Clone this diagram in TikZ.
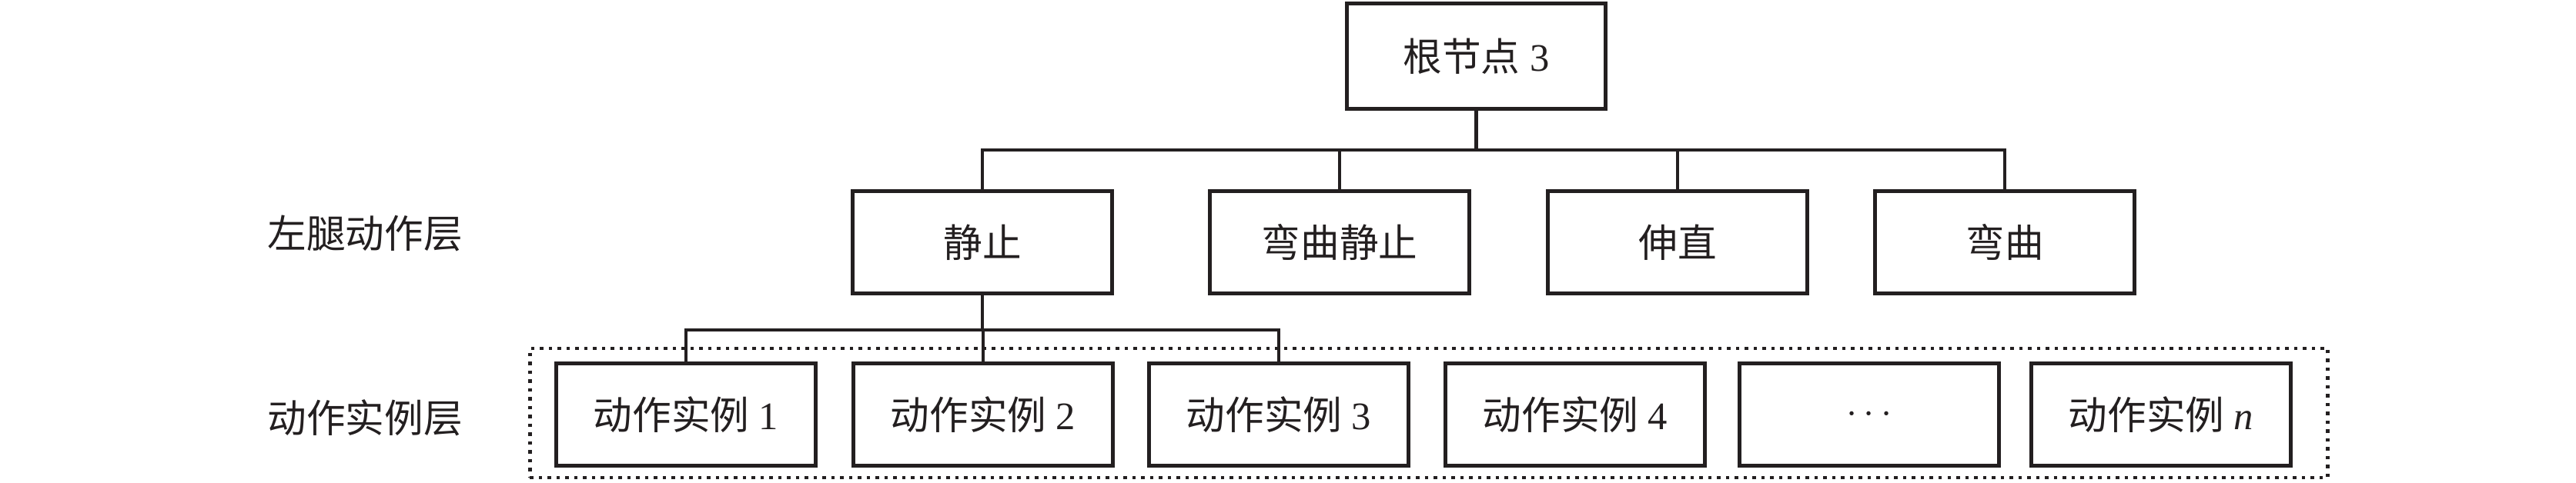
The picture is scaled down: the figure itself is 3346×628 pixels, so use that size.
\documentclass[tikz,border=0pt]{standalone}
\usepackage{fontspec}
\setmainfont{Liberation Serif}
\newfontfamily\cjk{Noto Sans CJK SC}
\definecolor{ink}{HTML}{231F20}
\begin{document}
\begin{tikzpicture}[x=0.01cm,y=-0.01cm,
  txt/.style={font=\fontsize{14.4pt}{17pt}\selectfont, text=ink},
  box/.style={txt, draw=ink, line width=1.4pt, minimum width=3.36cm, minimum height=1.33cm, inner sep=0pt},
  rootbox/.style={box, minimum width=3.36cm, minimum height=1.37cm},
  conn/.style={draw=ink, line width=0.9pt},
  lbl/.style={txt, anchor=west, inner sep=0pt},
  grpbox/.style={draw=ink, line width=1.3pt, dash pattern=on 0.045cm off 0.07cm, minimum width=23.34cm, minimum height=1.68cm, inner sep=0pt}]
\useasboundingbox (0,0) rectangle (3346,628);

% group (dotted) frame
\node[grpbox] (grp) at (1856,537) {};

% root
\node[rootbox] (root) at (1917.5,73) {{\cjk 根节点} 3};

% layer labels
\node[lbl] (lab1) at (347,303) {\cjk 左腿动作层};
\node[lbl] (lab2) at (347,543) {\cjk 动作实例层};

% left-leg action layer
\node[box] (a1) at (1276,315) {\cjk 静止};
\node[box] (a2) at (1740,315) {\cjk 弯曲静止};
\node[box] (a3) at (2179,315) {\cjk 伸直};
\node[box] (a4) at (2604,315) {\cjk 弯曲};

% action instance layer
\node[box] (b1) at (891,539) {{\cjk 动作实例} 1};
\node[box] (b2) at (1277,539) {{\cjk 动作实例} 2};
\node[box] (b3) at (1661,539) {{\cjk 动作实例} 3};
\node[box] (b4) at (2046,539) {{\cjk 动作实例} 4};
\node[box] (b5) at (2428,539) {$\cdots$};
\node[box] (b6) at (2807,539) {{\cjk 动作实例} \textit{n}};

% connectors root -> layer 1
\coordinate (bus) at (1917.5,195);
\draw[conn, line width=1.3pt] (root.south) -- (bus);
\foreach \c in {a1,a2,a3,a4} \draw[conn] (bus) -| (\c.north);

% connectors a1 -> instances
\coordinate (sbus) at (1276,429);
\draw[conn] (a1.south) -- (sbus);
\foreach \c in {b1,b2,b3} \draw[conn] (sbus) -| (\c.north);
\end{tikzpicture}
\end{document}
